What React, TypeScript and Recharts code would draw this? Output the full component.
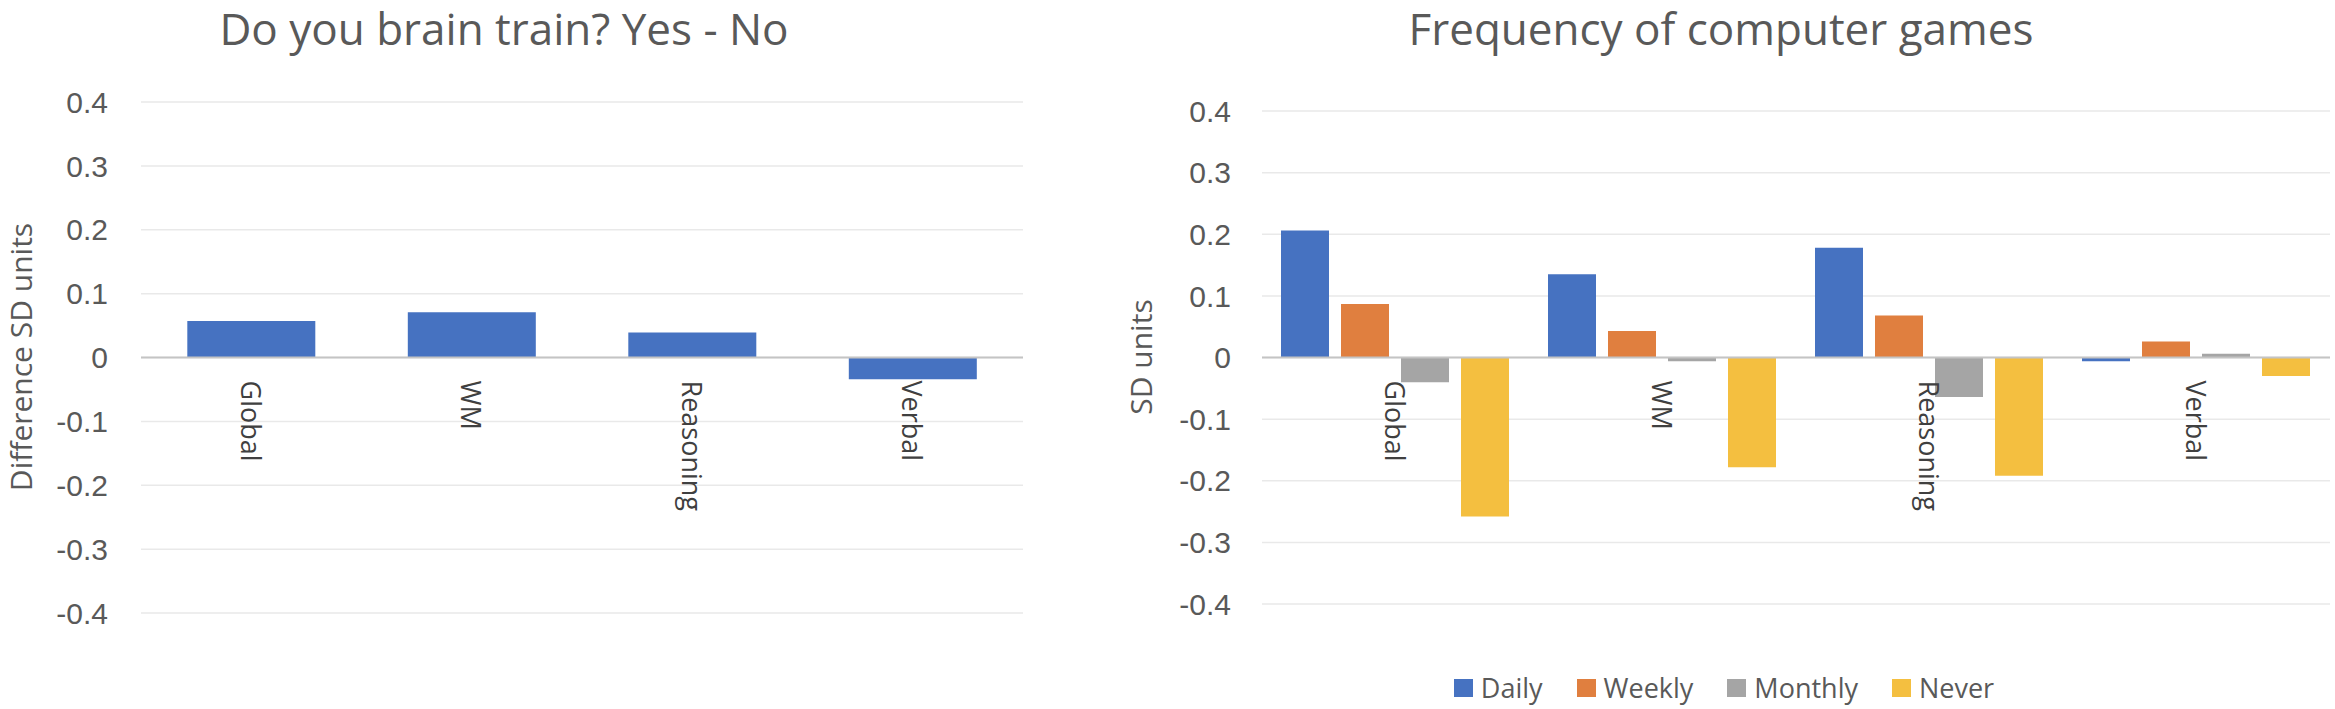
import React from "react";
import {
  BarChart,
  Bar,
  XAxis,
  YAxis,
  CartesianGrid,
  ReferenceLine,
  Legend,
} from "recharts";

// categories shared by both panels
const domains = ["Global", "WM", "Reasoning", "Verbal"];
const yTicks = [-0.4, -0.3, -0.2, -0.1, 0, 0.1, 0.2, 0.3, 0.4];

// left: brain training yes - no
const brainTrainDiff = [0.057, 0.071, 0.039, -0.034];

// right: frequency of computer games
const seriesNames = ["Daily", "Weekly", "Monthly", "Never"];
const daily = [0.206, 0.135, 0.178, -0.006];
const weekly = [0.087, 0.043, 0.068, 0.026];
const monthly = [-0.04, -0.006, -0.064, 0.006];
const never = [-0.258, -0.178, -0.192, -0.03];

const leftData = domains.map((d, i) => ({ name: d, value: brainTrainDiff[i] }));
const rightData = domains.map((d, i) => ({
  name: d,
  Daily: daily[i],
  Weekly: weekly[i],
  Monthly: monthly[i],
  Never: never[i],
}));

const colors: Record<string, string> = {
  Daily: "#4672C1",
  Weekly: "#E07F3F",
  Monthly: "#A5A5A5",
  Never: "#F4BF40",
};

const textGrey = "#595959";
const sans = "'Open Sans', sans-serif";
const tickFont = "'Liberation Sans', Arial, sans-serif";

const H = 709;

// category labels sit just under the zero line, rotated
const makeCatTick = (zeroY: number) => (props: any) => {
  const { x, payload } = props;
  const y = zeroY + 23;
  return (
    <text
      x={0}
      y={0}
      transform={`translate(${x},${y}) rotate(90)`}
      textAnchor="start"
      dominantBaseline="central"
      fontFamily={sans}
      fontSize={27}
      fill="#404040"
    >
      {payload.value}
    </text>
  );
};

const yLabel = (text: string, x: number, y: number) => () => (
  <text
    x={x}
    y={y}
    transform={`rotate(-90 ${x} ${y})`}
    textAnchor="middle"
    dominantBaseline="central"
    fontFamily={sans}
    fontSize={30}
    fill={textGrey}
  >
    {text}
  </text>
);

const LegendContent = (props: any) => {
  const items = [...(props.payload || [])].sort(
    (a: any, b: any) => seriesNames.indexOf(a.value) - seriesNames.indexOf(b.value)
  );
  return (
    <div style={{ display: "flex", justifyContent: "center", alignItems: "center" }}>
      {items.map((it: any, i: number) => (
        <div
          key={it.value}
          style={{ display: "flex", alignItems: "center", marginRight: i < items.length - 1 ? 34 : 0 }}
        >
          <span style={{ width: 19, height: 18, background: it.color, display: "inline-block", marginRight: 8 }} />
          <span style={{ fontFamily: sans, fontSize: 27, color: textGrey, lineHeight: "30px" }}>{it.value}</span>
        </div>
      ))}
    </div>
  );
};

const titleStyle = (center: number): React.CSSProperties => ({
  position: "absolute",
  top: 6,
  left: center - 500,
  width: 1000,
  textAlign: "center",
  fontFamily: sans,
  fontSize: 44,
  lineHeight: "44px",
  color: textGrey,
  whiteSpace: "nowrap",
});

export default function App() {
  const lTop = 102;
  const lBottom = 613;
  const rTop = 111;
  const rBottom = 604;

  return (
    <div style={{ position: "absolute", left: 0, top: 0, width: 2335, height: H, background: "#fff" }}>
      <div style={titleStyle(504)}>Do you brain train? Yes - No</div>
      <div style={titleStyle(1721)}>Frequency of computer games</div>

      <div style={{ position: "absolute", left: 0, top: 0 }}>
        <BarChart
          width={1100}
          height={H}
          data={leftData}
          margin={{ top: lTop, right: 77, bottom: H - lBottom - 1, left: 0 }}
          barCategoryGap="21%"
        >
          <CartesianGrid vertical={false} stroke="#e9e9e9" strokeWidth={1.5} />
          <XAxis
            dataKey="name"
            height={1}
            axisLine={false}
            tickLine={false}
            interval={0}
            tick={makeCatTick((lTop + lBottom) / 2)}
          />
          <YAxis
            width={141}
            domain={[-0.4, 0.4]}
            ticks={yTicks}
            axisLine={false}
            tickLine={false}
            tickSize={0}
            tickMargin={33}
            tick={{ fontFamily: tickFont, fontSize: 30, fill: textGrey }}
            label={{ content: yLabel("Difference SD units", 20, 357) }}
          />
          <ReferenceLine y={0} stroke="#c4c4c4" strokeWidth={2} />
          <Bar dataKey="value" fill={colors.Daily} isAnimationActive={false} />
        </BarChart>
      </div>

      <div style={{ position: "absolute", left: 1100, top: 0 }}>
        <BarChart
          width={1235}
          height={H}
          data={rightData}
          margin={{ top: rTop, right: 5, bottom: H - rBottom - 1, left: 0 }}
          barCategoryGap={19}
          barGap={12}
        >
          <CartesianGrid vertical={false} stroke="#e9e9e9" strokeWidth={1.5} />
          <XAxis
            dataKey="name"
            height={1}
            axisLine={false}
            tickLine={false}
            interval={0}
            tick={makeCatTick((rTop + rBottom) / 2)}
          />
          <YAxis
            width={162}
            domain={[-0.4, 0.4]}
            ticks={yTicks}
            axisLine={false}
            tickLine={false}
            tickSize={0}
            tickMargin={31}
            tick={{ fontFamily: tickFont, fontSize: 30, fill: textGrey }}
            label={{ content: yLabel("SD units", 40, 357) }}
          />
          <ReferenceLine y={0} stroke="#c4c4c4" strokeWidth={2} />
          <Legend
            layout="horizontal"
            verticalAlign="middle"
            align="center"
            content={<LegendContent />}
            wrapperStyle={{ left: 324, width: 600, top: 673 }}
          />
          {seriesNames.map((s) => (
            <Bar key={s} dataKey={s} fill={colors[s]} isAnimationActive={false} />
          ))}
        </BarChart>
      </div>
    </div>
  );
}
